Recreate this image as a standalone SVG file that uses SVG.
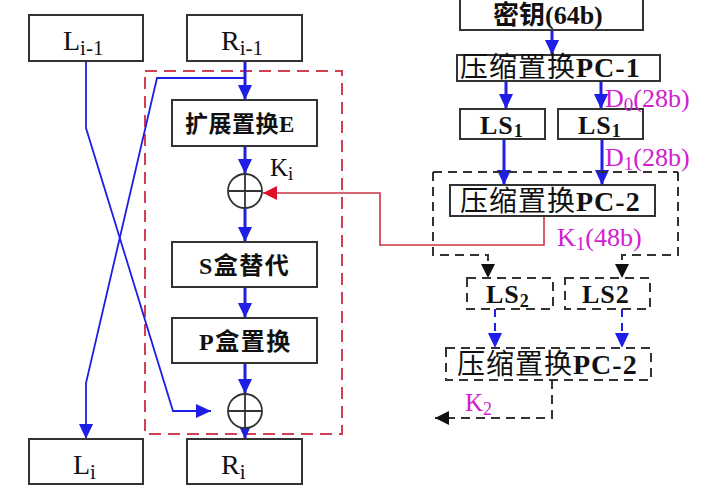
<svg xmlns="http://www.w3.org/2000/svg" width="723" height="487" viewBox="0 0 723 487">
<style>
.box{fill:#fff;stroke:#333;stroke-width:2}
.dbox{fill:none;stroke:#333;stroke-width:2;stroke-dasharray:9 6}
.t{font-family:"Liberation Serif","Noto Sans CJK SC",serif;fill:#111}
.b{font-weight:bold}
.m{font-family:"Liberation Serif",serif;fill:#d020d0}
.bl{stroke:#1e1ee6;fill:none}
.xor{fill:#fff;stroke:#333;stroke-width:1.8}
</style>
<defs>
<marker id="ab" markerUnits="userSpaceOnUse" markerWidth="14" markerHeight="15" refX="15" refY="7" orient="auto"><path d="M0,0 L15,7 L0,14 Z" fill="#1e1ee6"/></marker>
<marker id="ar" markerUnits="userSpaceOnUse" markerWidth="14" markerHeight="14" refX="14" refY="7" orient="auto"><path d="M0,0 L14,7 L0,14 Z" fill="#e0102a"/></marker>
<marker id="ak" markerUnits="userSpaceOnUse" markerWidth="14" markerHeight="14" refX="14" refY="7" orient="auto"><path d="M0,0 L14,7 L0,14 Z" fill="#111"/></marker>
</defs>
<rect x="0" y="0" width="723" height="487" fill="#fff"/>

<!-- red dashed round-function frame -->
<rect x="145" y="71" width="197" height="363" fill="none" stroke="#d04050" stroke-width="2" stroke-dasharray="12 7"/>

<g id="connectors">
 <polyline class="bl" stroke-width="1.8" points="86,61 86,128 173,411 211,411" marker-end="url(#ab)"/>
 <polyline class="bl" stroke-width="1.8" points="245,78 157,78 86,383 86,439" marker-end="url(#ab)"/>
 <line class="bl" stroke-width="3" x1="245" y1="61" x2="245" y2="100" marker-end="url(#ab)"/>
 <line class="bl" stroke-width="3" x1="245" y1="146" x2="245" y2="174" marker-end="url(#ab)"/>
 <line class="bl" stroke-width="3" x1="245" y1="208" x2="245" y2="242" marker-end="url(#ab)"/>
 <line class="bl" stroke-width="3" x1="245" y1="287" x2="245" y2="318" marker-end="url(#ab)"/>
 <line class="bl" stroke-width="3" x1="245" y1="363" x2="245" y2="394" marker-end="url(#ab)"/>
 <line class="bl" stroke-width="3" x1="245" y1="420" x2="245" y2="439" marker-end="url(#ab)"/>
 <line class="bl" stroke-width="3" x1="552" y1="30" x2="552" y2="55" marker-end="url(#ab)"/>
 <line class="bl" stroke-width="3" x1="506" y1="81" x2="506" y2="109" marker-end="url(#ab)"/>
 <line class="bl" stroke-width="3" x1="601" y1="81" x2="601" y2="109" marker-end="url(#ab)"/>
 <line class="bl" stroke-width="3" x1="504" y1="139" x2="504" y2="185" marker-end="url(#ab)"/>
 <line class="bl" stroke-width="3" x1="602" y1="139" x2="602" y2="185" marker-end="url(#ab)"/>
 <polyline fill="none" stroke="#cc3344" stroke-width="1.6" points="544,216 544,245 380,245 380,193 263,193" marker-end="url(#ar)"/>
 <polyline fill="none" stroke="#333" stroke-width="2" stroke-dasharray="9 6" points="433,172 678,172"/>
 <polyline fill="none" stroke="#333" stroke-width="2" stroke-dasharray="9 6" points="433,172 433,255 488,255 488,278" marker-end="url(#ak)"/>
 <polyline fill="none" stroke="#333" stroke-width="2" stroke-dasharray="9 6" points="678,172 678,255 622,255 622,278" marker-end="url(#ak)"/>
 <line class="bl" stroke-width="2" stroke-dasharray="8 6" x1="495" y1="309" x2="495" y2="348" marker-end="url(#ab)"/>
 <line class="bl" stroke-width="2" stroke-dasharray="8 6" x1="622" y1="309" x2="622" y2="348" marker-end="url(#ab)"/>
 <polyline fill="none" stroke="#333" stroke-width="2" stroke-dasharray="9 6" points="552,380 552,418 435,418" marker-end="url(#ak)"/>
</g>

<g id="L_prev"><rect class="box" x="29" y="15" width="114" height="46"/><text class="t" x="63" y="50" font-size="28">L<tspan font-size="21" dy="5">i-1</tspan></text></g>
<g id="R_prev"><rect class="box" x="187" y="15" width="115" height="46"/><text class="t" x="221" y="50" font-size="28">R<tspan font-size="21" dy="5">i-1</tspan></text></g>
<g id="E"><rect class="box" x="172" y="100" width="145" height="46"/><text class="t b" x="185" y="132" font-size="23" letter-spacing="0.5">扩展置换E</text></g>
<g id="xor1"><circle class="xor" cx="245" cy="191" r="17"/><path d="M228,191H262M245,174V208" stroke="#333" stroke-width="1.8"/><text class="t" x="270" y="176" font-size="25">K<tspan font-size="19" dy="4">i</tspan></text></g>
<g id="S"><rect class="box" x="172" y="242" width="145" height="45"/><text class="t b" x="199" y="274" font-size="24" letter-spacing="1.5">S盒替代</text></g>
<g id="P"><rect class="box" x="172" y="318" width="145" height="45"/><text class="t b" x="199" y="350" font-size="24" letter-spacing="1.5">P盒置换</text></g>
<g id="xor2"><circle class="xor" cx="245" cy="411" r="17"/><path d="M228,411H262M245,394V428" stroke="#333" stroke-width="1.8"/></g>
<g id="L_i"><rect class="box" x="29" y="439" width="114" height="45"/><text class="t" x="73" y="474" font-size="28">L<tspan font-size="21" dy="5">i</tspan></text></g>
<g id="R_i"><rect class="box" x="187" y="439" width="115" height="45"/><text class="t" x="221" y="474" font-size="28">R<tspan font-size="21" dy="5">i</tspan></text></g>

<g id="key"><rect class="box" x="460" y="-2" width="183" height="32"/><text class="t b" x="493" y="24" font-size="26">密钥(64b)</text></g>
<g id="pc1"><rect class="box" x="457" y="55" width="203" height="26"/><text class="t" x="460" y="77" font-size="28" letter-spacing="1">压缩置换<tspan class="b">PC-1</tspan></text></g>
<g id="ls1a"><rect class="box" x="460" y="109" width="85" height="30"/><text class="t b" x="480" y="134" font-size="26" letter-spacing="1">LS<tspan font-size="18" dy="3">1</tspan></text></g>
<g id="ls1b"><rect class="box" x="558" y="109" width="85" height="30"/><text class="t b" x="578" y="134" font-size="26" letter-spacing="1">LS<tspan font-size="18" dy="3">1</tspan></text></g>
<text class="m" x="605" y="107" font-size="26">D<tspan font-size="19" dy="4">0</tspan><tspan dy="-4">(28b)</tspan></text>
<text class="m" x="605" y="166" font-size="26">D<tspan font-size="19" dy="4">1</tspan><tspan dy="-4">(28b)</tspan></text>
<g id="pc2"><rect class="box" x="450" y="185" width="205" height="31"/><text class="t" x="460" y="211" font-size="28" letter-spacing="1">压缩置换<tspan class="b">PC-2</tspan></text></g>
<text class="m" x="557" y="246" font-size="26">K<tspan font-size="19" dy="4">1</tspan><tspan dy="-4">(48b)</tspan></text>
<g id="ls2a"><rect class="dbox" x="467" y="278" width="86" height="31"/><text class="t b" x="486" y="303" font-size="26" letter-spacing="1">LS<tspan font-size="18" dy="4">2</tspan></text></g>
<g id="ls2b"><rect class="dbox" x="565" y="278" width="85" height="31"/><text class="t b" x="582" y="303" font-size="26" letter-spacing="1">LS2</text></g>
<g id="pc2b"><rect class="dbox" x="446" y="348" width="205" height="32"/><text class="t" x="457" y="374" font-size="28" letter-spacing="1">压缩置换<tspan class="b">PC-2</tspan></text></g>
<text class="m" x="465" y="411" font-size="25">K<tspan font-size="18" dy="4">2</tspan></text>
</svg>
